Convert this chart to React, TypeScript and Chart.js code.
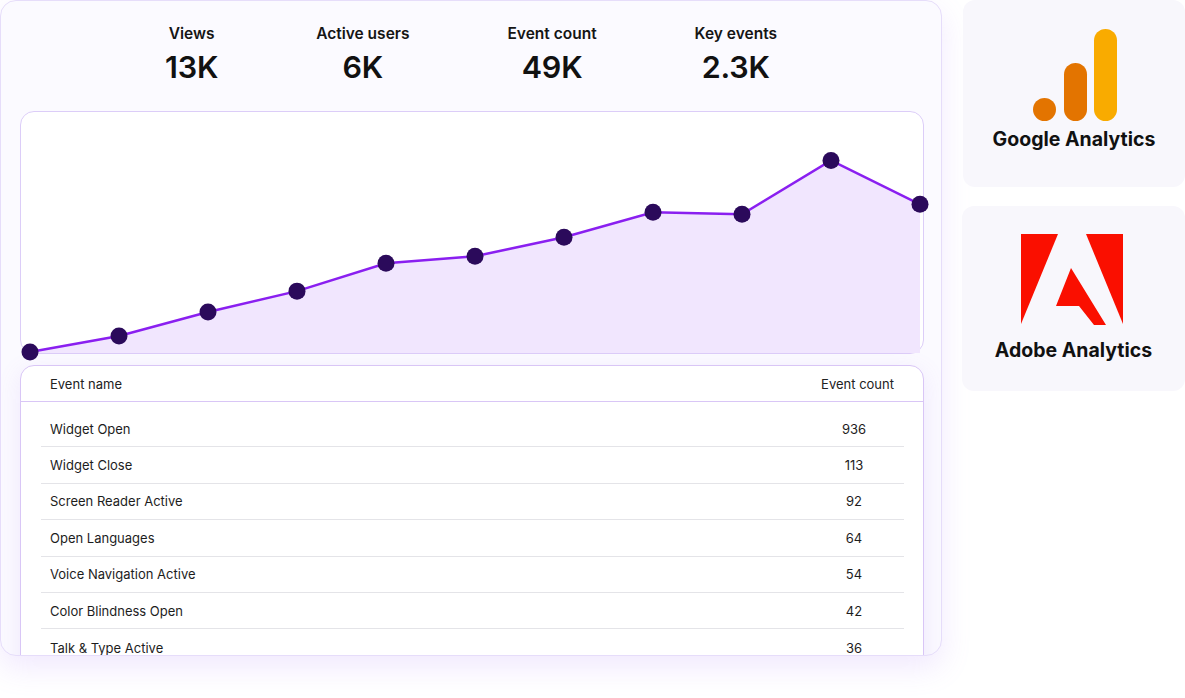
import React, { useEffect, useRef } from "react";
import { Chart, registerables } from "chart.js";
Chart.register(...registerables);

const pointLabels = ["1", "2", "3", "4", "5", "6", "7", "8", "9", "10", "11"];
const trendValues = [1, 17, 41, 62, 90, 97, 116, 141, 139, 193, 149];
const kpiLabels = ["Views", "Active users", "Event count", "Key events"];
const kpiValues = ["13K", "6K", "49K", "2.3K"];
const tableHeaders = ["Event name", "Event count"];
const eventNames = [
  "Widget Open",
  "Widget Close",
  "Screen Reader Active",
  "Open Languages",
  "Voice Navigation Active",
  "Color Blindness Open",
  "Talk & Type Active",
];
const eventCounts = [936, 113, 92, 64, 54, 42, 36];
const platformNames = ["Google Analytics", "Adobe Analytics"];

const FONT = "Inter, 'Noto Sans', sans-serif";

function TrendChart() {
  const ref = useRef<HTMLCanvasElement | null>(null);
  useEffect(() => {
    if (!ref.current) return;
    const chart = new Chart(ref.current, {
      type: "line",
      data: {
        labels: pointLabels,
        datasets: [
          {
            data: trendValues,
            borderColor: "#8a1ff0",
            borderWidth: 2.5,
            backgroundColor: "#f1e6fe",
            fill: "start",
            tension: 0,
            pointRadius: 8.5,
            pointHoverRadius: 8.5,
            pointBorderWidth: 0,
            pointBackgroundColor: "#2b0a5b",
            clip: false as any,
          },
        ],
      },
      options: {
        animation: false,
        responsive: false,
        maintainAspectRatio: false,
        events: [],
        layout: { padding: { left: 17, right: 13, top: 8, bottom: 12 } },
        plugins: { legend: { display: false }, tooltip: { enabled: false } },
        scales: {
          x: { display: false },
          y: { display: false, min: 0, max: 242 },
        },
      },
    });
    return () => chart.destroy();
  }, []);
  return (
    <canvas
      ref={ref}
      width={920}
      height={262}
      style={{ position: "absolute", left: 12, top: 102, width: 920, height: 262, zIndex: 2 }}
    />
  );
}

function GoogleLogo() {
  return (
    <div style={{ position: "relative", height: 92, width: 84, margin: "0 auto" }}>
      <div style={{ position: "absolute", left: 0, bottom: 0, width: 23, height: 23, borderRadius: 12, background: "#e37400" }} />
      <div style={{ position: "absolute", left: 31, bottom: 0, width: 23, height: 58, borderRadius: 12, background: "#e37400" }} />
      <div style={{ position: "absolute", left: 61, bottom: 0, width: 23, height: 92, borderRadius: 12, background: "#f9ab00" }} />
    </div>
  );
}

function AdobeLogo() {
  return (
    <svg width={102} height={91} viewBox="0 0 102 91" style={{ display: "block", margin: "0 auto" }}>
      <polygon points="0,0 37,0 0,90" fill="#fa0f00" />
      <polygon points="65,0 102,0 102,90" fill="#fa0f00" />
      <polygon points="50,34 85,91 73,91 58,72 35,72" fill="#fa0f00" />
    </svg>
  );
}

export default function App() {
  return (
    <div style={{ position: "absolute", left: 0, top: 0, width: 1185, height: 698, background: "#ffffff", fontFamily: FONT, color: "#111" }}>
      {/* main panel */}
      <div
        style={{
          position: "absolute",
          left: 0,
          top: 0,
          width: 942,
          height: 656,
          boxSizing: "border-box",
          background: "#fbfaff",
          border: "1px solid #e6ddfa",
          borderRadius: 16,
          overflow: "hidden",
          boxShadow: "0 12px 30px rgba(168,120,250,0.16)",
        }}
      >
        {/* KPIs */}
        <div style={{ position: "absolute", left: 0, top: 23, width: 940, display: "flex", justifyContent: "center", gap: 98 }}>
          {kpiLabels.map((l, i) => (
            <div key={l} style={{ display: "flex", flexDirection: "column", alignItems: "center" }}>
              <div style={{ fontSize: 15.5, fontWeight: 600, lineHeight: "20px", color: "#151515" }}>{l}</div>
              <div style={{ fontSize: 30.5, fontWeight: 600, lineHeight: "36px", marginTop: 5, color: "#111", letterSpacing: -0.2 }}>{kpiValues[i]}</div>
            </div>
          ))}
        </div>

        {/* chart card */}
        <div
          style={{
            position: "absolute",
            left: 19,
            top: 110,
            width: 904,
            height: 243,
            boxSizing: "border-box",
            background: "#ffffff",
            border: "1px solid #dccdf8",
            borderRadius: 14,
            zIndex: 1,
          }}
        />
        <TrendChart />

        {/* table card */}
        <div
          style={{
            position: "absolute",
            left: 19,
            top: 364,
            width: 904,
            height: 320,
            boxSizing: "border-box",
            background: "#ffffff",
            border: "1px solid #d9c6f6",
            borderRadius: 14,
            boxShadow: "0 6px 24px rgba(160,110,240,0.12)",
            zIndex: 1,
          }}
        >
          <div
            style={{
              height: 35,
              borderBottom: "1px solid #d9c6f6",
              display: "flex",
              alignItems: "center",
              justifyContent: "space-between",
              padding: "0 29px 0 29px",
              fontSize: 13,
              color: "#222",
            }}
          >
            <span>{tableHeaders[0]}</span>
            <span>{tableHeaders[1]}</span>
          </div>
          <div style={{ padding: "9px 19px 0 20px" }}>
            {eventNames.map((n, i) => (
              <div
                key={n}
                style={{
                  height: 36.4,
                  boxSizing: "border-box",
                  borderBottom: i < eventNames.length - 1 ? "1px solid #e4e4e8" : "none",
                  display: "flex",
                  alignItems: "center",
                  justifyContent: "space-between",
                  fontSize: 13,
                  color: "#1d1d1d",
                }}
              >
                <span style={{ paddingLeft: 9 }}>{n}</span>
                <span style={{ width: 80, textAlign: "center", marginRight: 10 }}>{eventCounts[i]}</span>
              </div>
            ))}
          </div>
        </div>
      </div>

      {/* Google card */}
      <div
        style={{
          position: "absolute",
          left: 963,
          top: 0,
          width: 222,
          height: 187,
          background: "#f8f7fc",
          borderRadius: 12,
        }}
      >
        <div style={{ position: "absolute", top: 29, left: 70 }}>
          <GoogleLogo />
        </div>
        <div style={{ position: "absolute", top: 127, left: 0, width: 222, textAlign: "center", fontSize: 19.5, fontWeight: 700, lineHeight: "24px", color: "#111" }}>
          {platformNames[0]}
        </div>
      </div>

      {/* Adobe card */}
      <div
        style={{
          position: "absolute",
          left: 962,
          top: 206,
          width: 223,
          height: 185,
          background: "#f8f7fc",
          borderRadius: 12,
        }}
      >
        <div style={{ position: "absolute", top: 28, left: 59 }}>
          <AdobeLogo />
        </div>
        <div style={{ position: "absolute", top: 132, left: 0, width: 223, textAlign: "center", fontSize: 19.5, fontWeight: 700, lineHeight: "24px", color: "#111" }}>
          {platformNames[1]}
        </div>
      </div>
    </div>
  );
}
